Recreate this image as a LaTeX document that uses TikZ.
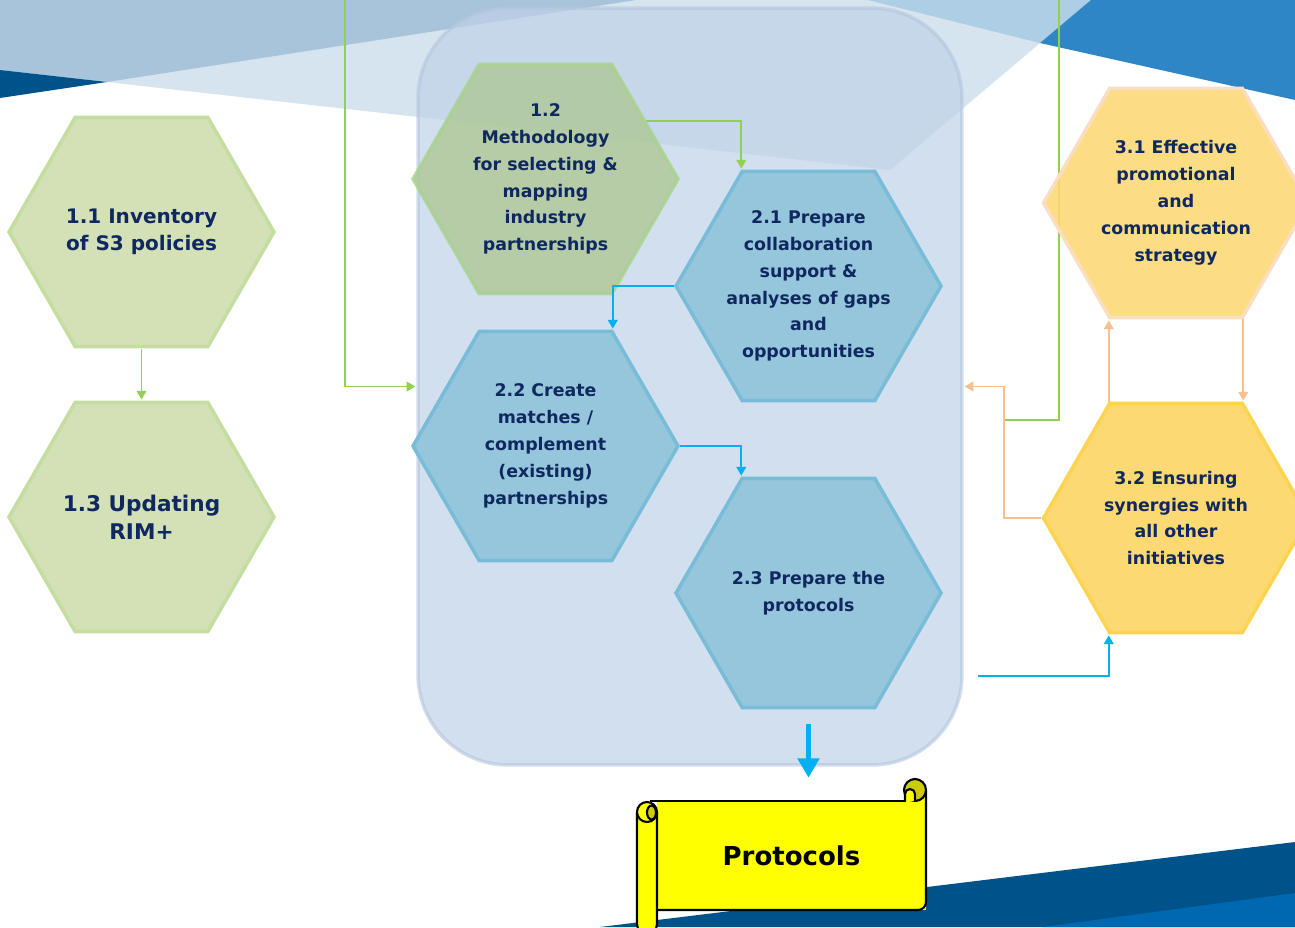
\documentclass[tikz,border=0pt]{standalone}
\usepackage{fontspec}
\setmainfont{DejaVu Sans}
\usepackage{tikz}
\usetikzlibrary{arrows.meta,positioning,calc,shapes.geometric}

\definecolor{navytext}{RGB}{15,40,95}
\definecolor{bglight}{RGB}{214,228,240}
\definecolor{bgmid}{RGB}{167,196,218}
\definecolor{bgnavy}{RGB}{0,82,138}
\definecolor{bgsky}{RGB}{174,206,230}
\definecolor{bgblue}{RGB}{46,134,198}
\definecolor{bgdeep}{RGB}{0,104,176}
\definecolor{panelfill}{RGB}{192,210,232}
\definecolor{panelline}{RGB}{180,198,222}
\definecolor{leaffill}{RGB}{212,224,181}
\definecolor{leafline}{RGB}{195,222,160}
\definecolor{mossfill}{RGB}{174,200,150}
\definecolor{mossline}{RGB}{169,209,142}
\definecolor{aquafill}{RGB}{149,198,219}
\definecolor{aqualine}{RGB}{120,188,215}
\definecolor{sunfill}{RGB}{253,217,115}
\definecolor{peachline}{RGB}{251,221,192}
\definecolor{goldline}{RGB}{253,211,80}
\definecolor{linkgreen}{RGB}{146,208,80}
\definecolor{linkblue}{RGB}{0,176,240}
\definecolor{linkorange}{RGB}{250,191,143}
\definecolor{scrollyellow}{RGB}{255,255,0}
\definecolor{scrollolive}{RGB}{204,204,0}

\begin{document}
\begin{tikzpicture}[x=0.02cm,y=-0.02cm]

\tikzset{hexa/.style={regular polygon, regular polygon sides=6, minimum size=5.3cm, inner sep=0pt, line width=2pt},
  hextext/.style={text=navytext, align=center, font=\fontsize{9.9}{15.3}\selectfont\bfseries},
  hexmid/.style={text=navytext, align=center, font=\fontsize{11.4}{15.6}\selectfont\bfseries},
  hexbig/.style={text=navytext, align=center, font=\fontsize{12.3}{16}\selectfont\bfseries},
  leaf/.style={hexa, fill=leaffill, draw=leafline},
  moss/.style={hexa, fill=mossfill, fill opacity=0.8, draw=mossline, draw opacity=0.8, text opacity=1},
  aqua/.style={hexa, fill=aquafill, draw=aqualine},
  sunpeach/.style={hexa, fill=sunfill, fill opacity=0.88, draw=peachline, text opacity=1},
  sungold/.style={hexa, fill=sunfill, draw=goldline},
  panel/.style={rounded corners=1.8cm, minimum width=10.88cm, minimum height=15.14cm, fill=panelfill, fill opacity=0.7, draw=panelline, draw opacity=0.6, line width=2pt},
  link/.style={line width=1.1pt, shorten >=0.5pt, -{Triangle[length=5pt,width=5.5pt]}},
  glink/.style={link, draw=linkgreen},
  blink/.style={link, draw=linkblue},
  olink/.style={link, draw=linkorange},
  bigarrow/.style={line width=3.4pt, draw=linkblue, -{Triangle[length=11pt,width=12pt]}},
  scrollline/.style={draw=black, line width=1.2pt},
  scrollbody/.style={fill=scrollyellow, minimum width=5.38cm, minimum height=2.18cm, inner sep=0pt, font=\fontsize{14.8}{17}\selectfont\bfseries}}

\useasboundingbox (0,0) rectangle (1295,927);
\fill[white] (0,0) rectangle (1295,927);

% background bands
\fill[bglight] (0,0) -- (1091,0) -- (890,170) -- (0,70) -- cycle;
\fill[bgmid] (0,0) -- (636,0) -- (107,82) -- (0,70) -- cycle;
\fill[bgnavy] (0,70) -- (107,82) -- (0,98) -- cycle;
\fill[bgsky] (868,0) -- (1091,0) -- (1040,43) -- cycle;
\fill[bgblue] (1091,0) -- (1295,0) -- (1295,100) -- (1040,43) -- cycle;
\fill[bgnavy] (600,927) -- (1295,842) -- (1295,927) -- cycle;
\fill[bgdeep] (1043,927) -- (1295,893) -- (1295,927) -- cycle;

\node[panel] (box) at (690,386.5) {};

\coordinate (gtopL) at (345,0);
\coordinate (gtopR) at (1059,0);
\coordinate (ojoin) at (1004,420);
\coordinate (feed) at (978,676);

\draw[glink] (gtopL) |- (box.west);
\draw[line width=1.1pt, linkgreen] (gtopR) |- (ojoin);

% hexagons
\node[leaf, label={[hexmid]center:{1.1 Inventory\\of S3 policies}}] (h11) at (141.5,232) {};
\node[leaf, label={[hexbig]center:{1.3 Updating\\RIM+}}] (h13) at (141.5,517) {};
\node[moss, label={[hextext]center:{1.2\\Methodology\\for selecting \&\\mapping\\industry\\partnerships}}] (h12) at (545.5,179) {};
\node[aqua, label={[hextext]center:{2.1 Prepare\\collaboration\\support \&\\analyses of gaps\\and\\opportunities}}] (h21) at (808.5,286) {};
\node[aqua, label={[hextext]center:{2.2 Create\\matches /\\complement\\(existing)\\partnerships}}] (h22) at (545.5,446) {};
\node[aqua, label={[hextext]center:{2.3 Prepare the\\protocols}}] (h23) at (808.5,593) {};
\node[sunpeach, label={[hextext]center:{3.1 Effective\\promotional\\and\\communication\\strategy}}] (h31) at (1176,203) {};
\node[sungold, label={[hextext]center:{3.2 Ensuring\\synergies with\\all other\\initiatives}}] (h32) at (1176,518) {};

% connectors
\draw[glink] (h11.south) -- (h13.north);
\draw[glink] (h12.30) -| (h21.120);
\draw[blink] (h21.west) -| (h22.60);
\draw[blink] (h22.east) -| (h23.120);
\draw[blink] (feed) -| (h32.240);
\draw[olink] (h32.120) -- (h31.240);
\draw[olink] (h31.300) -- (h32.60);
\draw[olink] (h32.west) -| (ojoin) |- (box.east);

% scroll
\node[scrollbody] (proto) at (791.5,855.5) {Protocols};
\draw[bigarrow] ($(h23.south)+(0,14)$) -- ($(h23.south |- proto.north)+(0,-23)$);
\fill[scrollyellow] (905,790) rectangle (926,801);
\draw[scrollline, rounded corners=0.16cm] (926,790) -- (926,910) -- (657,910);
\draw[scrollline] (650,801) -- (905,801) -- (905,790);
\filldraw[scrollline, fill=scrollolive] (915,790) circle[radius=11];
\filldraw[scrollline, fill=scrollyellow] (905,801) -- (905,794) arc[start angle=180, end angle=360, radius=5] -- (915,801);
\filldraw[scrollline, fill=scrollyellow, rounded corners=0.2cm] (637,812) -- (637,934) -- (657,934) -- (657,812);
\filldraw[scrollline, fill=scrollyellow] (647,812) circle[radius=10];
\filldraw[scrollline, fill=scrollolive] (651.5,812.5) ellipse[x radius=4.5, y radius=7];

\end{tikzpicture}
\end{document}
